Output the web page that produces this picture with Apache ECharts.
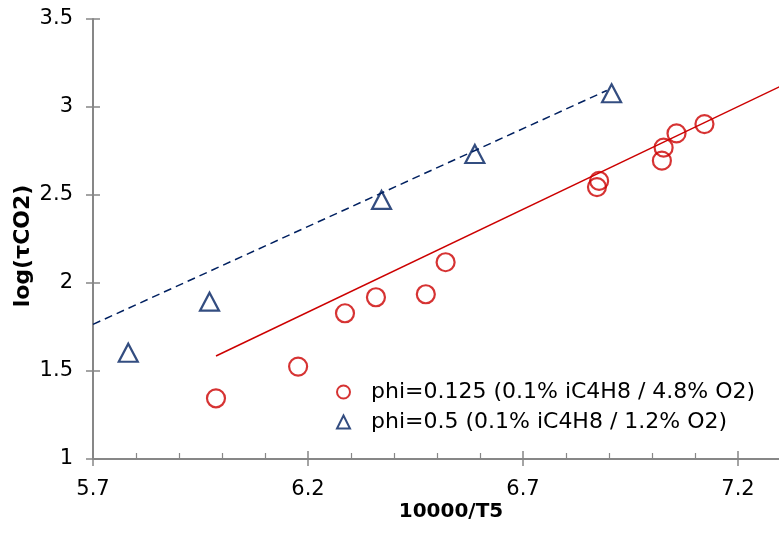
<!DOCTYPE html>
<html>
<head>
<meta charset="utf-8">
<script src="https://cdn.jsdelivr.net/npm/echarts@6/dist/echarts.min.js"></script>
<style>
html,body{margin:0;padding:0;background:#fff;}
#chart{width:779px;height:533px;}
</style>
</head>
<body>
<div id="chart"></div>
<script>
// ---- data ----
const circleName = 'phi=0.125 (0.1% iC4H8 / 4.8% O2)';
const triName = 'phi=0.5 (0.1% iC4H8 / 1.2% O2)';
const circleX = [5.986, 6.177, 6.286, 6.358, 6.474, 6.520, 6.877, 6.872, 7.023, 7.027, 7.057, 7.122];
const circleY = [1.345, 1.525, 1.828, 1.919, 1.936, 2.118, 2.580, 2.545, 2.695, 2.769, 2.850, 2.903];
const triX = [5.782, 5.971, 6.371, 6.588, 6.906];
const triY = [1.604, 1.894, 2.472, 2.733, 3.078];
// trend lines (end points)
const redFitX = [5.986, 7.3];
const redFitY = [1.585, 3.119];
const blueFitX = [5.7, 6.895];
const blueFitY = [1.765, 3.094];
// axes
const xMin = 5.7, xMax = 7.7, xStep = 0.5;
const yMin = 1, yMax = 3.5, yStep = 0.5;

const zip = (a, b) => a.map((v, i) => [v, b[i]]);
const FONT = 'DejaVu Sans';
const AX = '#878787';
const RED = '#cc0000';
const NAVY = '#002060';

const chart = echarts.init(document.getElementById('chart'), null, {renderer: 'canvas'});
chart.setOption({
  animation: false,
  textStyle: {fontFamily: FONT},
  grid: {left: 93, top: 19, width: 860, bottom: 74, containLabel: false, outerBoundsMode: 'none'},
  legend: {
    data: [circleName, triName],
    orient: 'vertical',
    left: 336, top: 381, padding: 0,
    itemWidth: 13, itemHeight: 13, itemGap: 8,
    textStyle: {fontFamily: FONT, fontSize: 22, color: '#000', padding: [0, 0, 0, 16]},
    selectedMode: false
  },
  xAxis: [{
    type: 'value', min: xMin, max: xMax, interval: xStep, position: 'bottom',
    axisLine: {show: true, onZero: false, lineStyle: {color: AX, width: 2}},
    axisTick: {show: true, inside: false, length: 7, lineStyle: {color: AX, width: 1.5}},
    axisLabel: {fontFamily: FONT, fontSize: 21, color: '#000', margin: 20,
      formatter: v => String(Math.round(v * 10) / 10)},
    splitLine: {show: false},
    name: '10000/T5', nameLocation: 'middle', nameGap: 43, nameMoveOverlap: false,
    nameTextStyle: {fontFamily: FONT, fontWeight: 'bold', fontSize: 20, color: '#000', padding: [0, 144, 0, 0]}
  }, {
    type: 'value', min: xMin, max: xMax, interval: xStep, position: 'bottom',
    axisLine: {show: false, onZero: false},
    axisTick: {show: true, inside: true, length: 8, lineStyle: {color: AX, width: 1.5}},
    minorTick: {show: true, splitNumber: 5, length: 6, lineStyle: {color: AX, width: 1.2}},
    axisLabel: {show: false}, splitLine: {show: false}
  }],
  yAxis: [{
    type: 'value', min: yMin, max: yMax, interval: yStep, position: 'left',
    axisLine: {show: true, onZero: false, lineStyle: {color: AX, width: 2}},
    axisTick: {show: true, inside: false, length: 7, lineStyle: {color: AX, width: 1.5}},
    axisLabel: {fontFamily: FONT, fontSize: 21, color: '#000', margin: 20,
      formatter: v => String(Math.round(v * 10) / 10)},
    splitLine: {show: false},
    name: 'log(τCO2)', nameLocation: 'middle', nameGap: 59, nameRotate: 90, nameMoveOverlap: false,
    nameTextStyle: {fontFamily: FONT, fontWeight: 'bold', fontSize: 22, color: '#000', padding: [0, 14, 0, 0]}
  }, {
    type: 'value', min: yMin, max: yMax, interval: yStep, position: 'left',
    axisLine: {show: false, onZero: false},
    axisTick: {show: true, inside: true, length: 7, lineStyle: {color: AX, width: 1.5}},
    axisLabel: {show: false}, splitLine: {show: false}
  }],
  series: [{
    type: 'line', name: 'redfit', data: zip(redFitX, redFitY), xAxisIndex: 0, yAxisIndex: 0,
    symbol: 'none', silent: true, z: 1,
    lineStyle: {color: RED, width: 1.5}
  }, {
    type: 'line', name: 'bluefit', data: zip(blueFitX, blueFitY), xAxisIndex: 0, yAxisIndex: 0,
    symbol: 'none', silent: true, z: 1,
    lineStyle: {color: NAVY, width: 1.5, type: [8, 5]}
  }, {
    type: 'scatter', name: circleName, data: zip(circleX, circleY), xAxisIndex: 0, yAxisIndex: 0,
    symbol: 'circle', symbolSize: 18, z: 3,
    itemStyle: {color: 'rgba(255,255,255,0)', borderColor: RED, borderWidth: 2.2}
  }, {
    type: 'scatter', name: triName, data: zip(triX, triY), xAxisIndex: 0, yAxisIndex: 0,
    symbol: 'triangle', symbolSize: [19, 18], z: 3,
    itemStyle: {color: 'rgba(255,255,255,0)', borderColor: NAVY, borderWidth: 2.2}
  }]
});
</script>
</body>
</html>
